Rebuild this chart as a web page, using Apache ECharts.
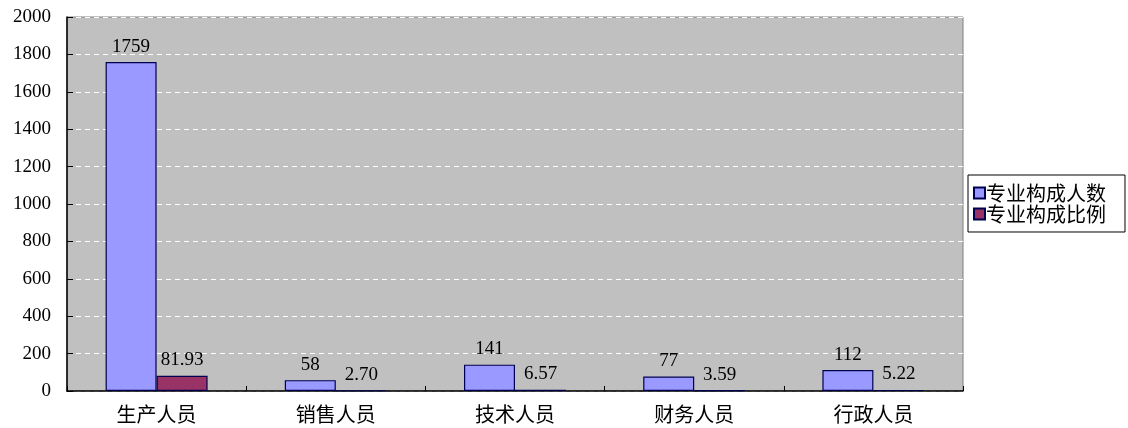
<!DOCTYPE html>
<html>
<head>
<meta charset="utf-8">
<script src="https://cdn.jsdelivr.net/npm/echarts@6/dist/echarts.min.js"></script>
<style>
    html, body { margin: 0; padding: 0; background: #fff; }
    #chart { width: 1128px; height: 428px; }
</style>
</head>
<body>
<div id="chart"></div>
<script>
var categories = ['生产人员', '销售人员', '技术人员', '财务人员', '行政人员'];
var countValues = [1759, 58, 141, 77, 112];
var ratioValues = [81.93, 2.70, 6.57, 3.59, 5.22];
var seriesNames = ['专业构成人数', '专业构成比例'];

var serif = '"Liberation Serif", "Times New Roman", serif';
var cjk = '"Noto Sans CJK SC", sans-serif';

var myChart = echarts.init(document.getElementById('chart'));

myChart.setOption({
    animation: false,
    grid: {
        left: 67,
        right: 165,
        top: 17,
        bottom: 37,
        show: true,
        backgroundColor: '#c0c0c0',
        borderColor: '#808080',
        borderWidth: 1
    },
    legend: {
        orient: 'vertical',
        left: 968,
        top: 175,
        padding: [8, 19, 8, 5],
        itemGap: 1,
        itemWidth: 11,
        itemHeight: 11,
        icon: 'rect',
        borderColor: '#000',
        borderWidth: 1,
        backgroundColor: '#fff',
        textStyle: { fontFamily: cjk, fontSize: 20, color: '#000', padding: [0, 0, 0, -4] },
        data: seriesNames
    },
    xAxis: {
        type: 'category',
        data: categories,
        axisLine: { lineStyle: { color: '#000', width: 1.5 } },
        axisTick: { show: true, inside: true, length: 5, lineStyle: { color: '#000' } },
        axisLabel: { fontFamily: cjk, fontSize: 20, color: '#000', margin: 13 }
    },
    yAxis: {
        type: 'value',
        min: 0,
        max: 2000,
        interval: 200,
        axisLine: { show: true, lineStyle: { color: '#000', width: 1.5 } },
        axisTick: { show: true, inside: true, length: 6, lineStyle: { color: '#000' } },
        axisLabel: {
            fontFamily: serif,
            fontSize: 19,
            color: '#000',
            margin: 16,
            formatter: function (v) {
                return String(v);
            }
        },
        splitLine: { lineStyle: { color: '#fff', type: [5, 4], width: 1 } }
    },
    series: [
        {
            name: seriesNames[0],
            type: 'bar',
            barWidth: 51,
            barGap: 0,
            data: countValues,
            itemStyle: { color: '#9999ff', borderColor: '#000050', borderWidth: 1.2 },
            label: {
                show: true,
                position: 'top',
                distance: 6,
                fontFamily: serif,
                fontSize: 19,
                color: '#000'
            }
        },
        {
            name: seriesNames[1],
            type: 'bar',
            barWidth: 51,
            barGap: 0,
            data: ratioValues,
            itemStyle: { color: '#993366', borderColor: '#000050', borderWidth: 1.2 },
            label: {
                show: true,
                position: 'top',
                distance: 6,
                fontFamily: serif,
                fontSize: 19,
                color: '#000',
                formatter: function (p) {
                    return p.value.toFixed(2);
                }
            }
        }
    ]
});
</script>
</body>
</html>
